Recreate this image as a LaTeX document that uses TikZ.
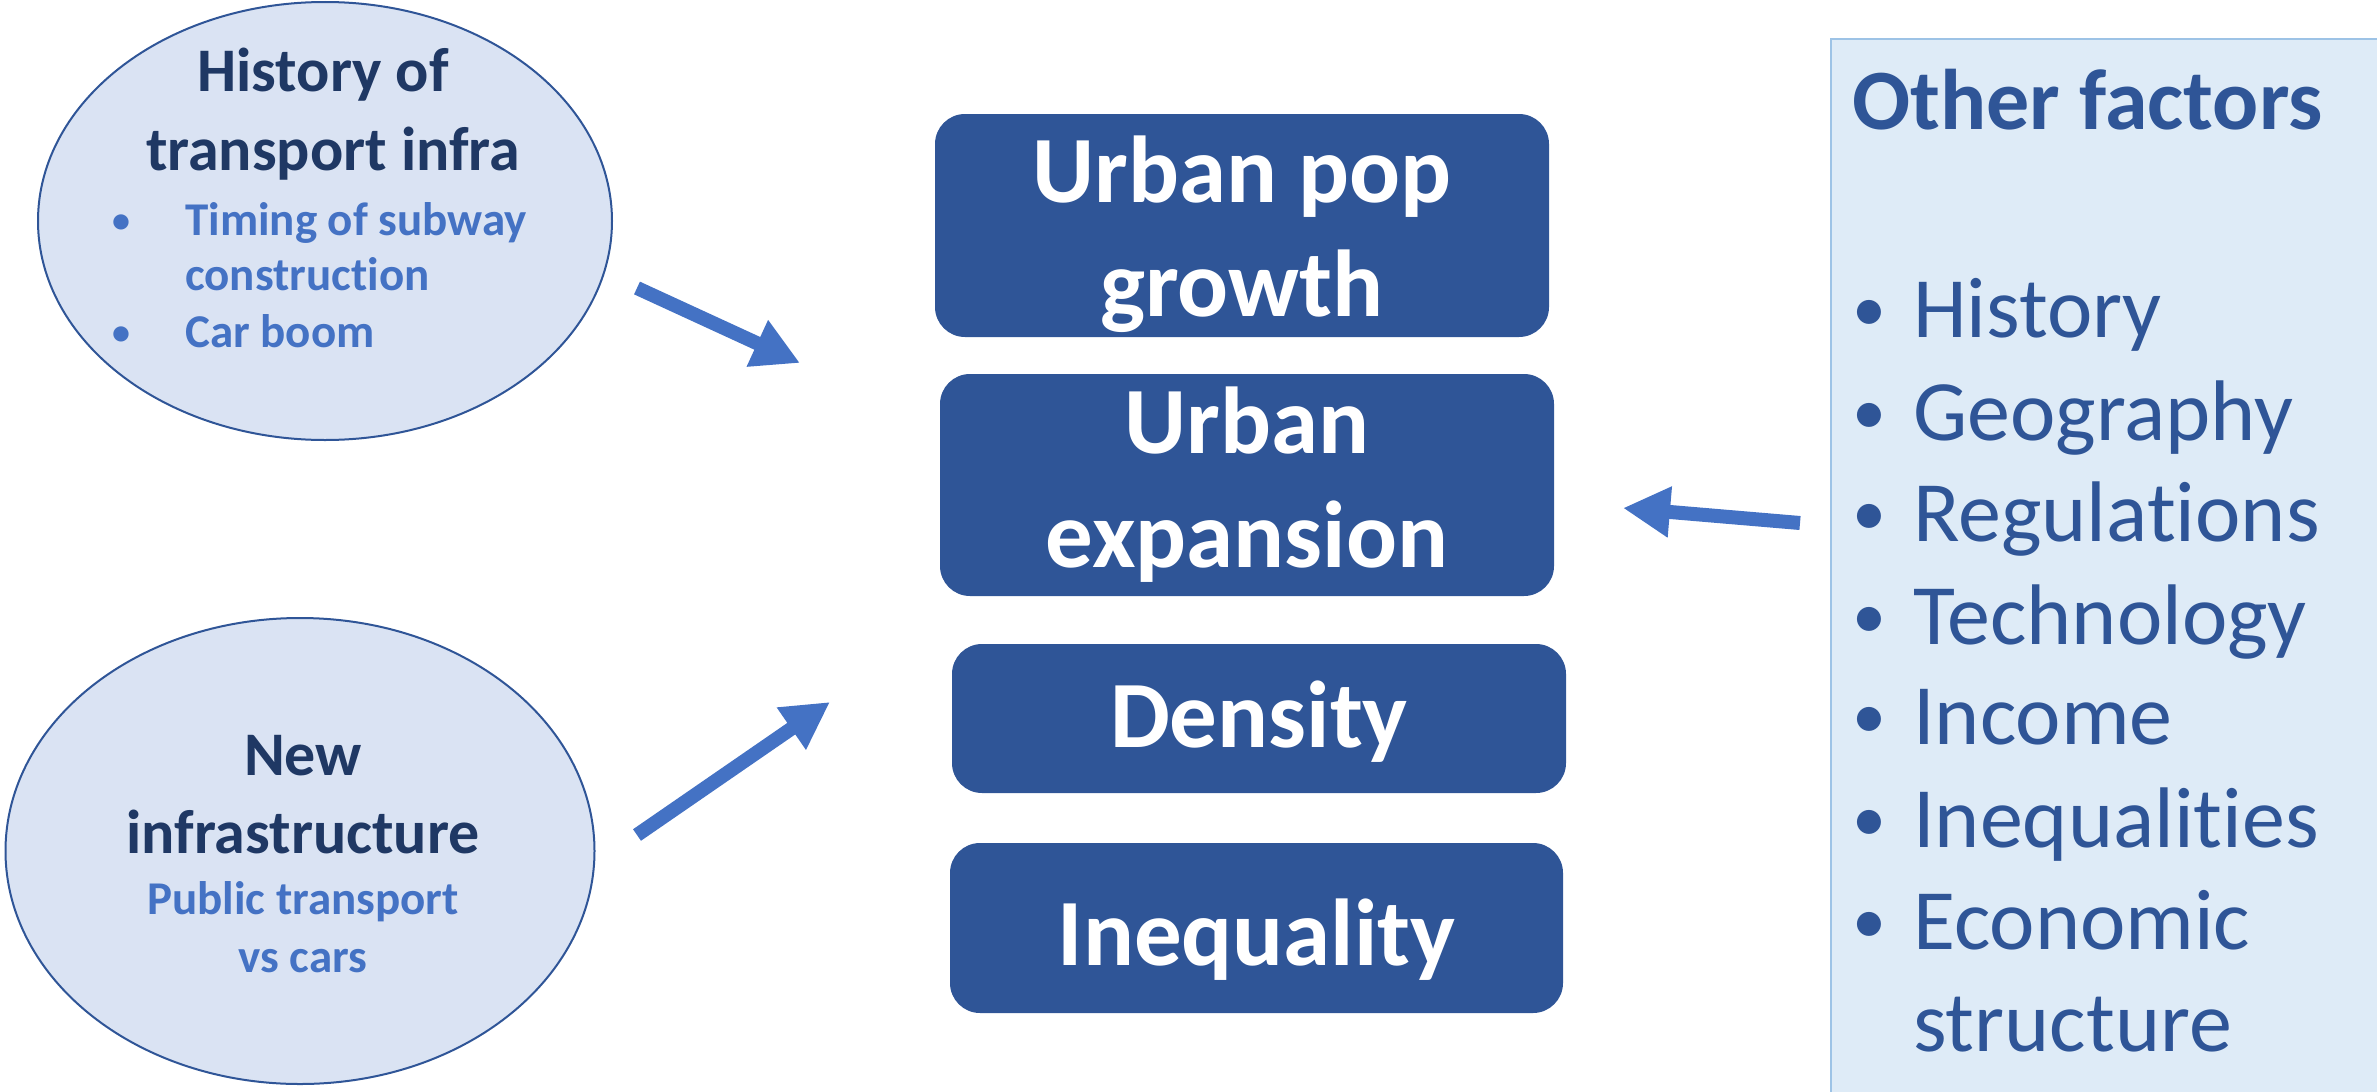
\documentclass[tikz,border=0pt]{standalone}
\usepackage{fontspec}
\setmainfont{Carlito}[Ligatures=NoCommon]
\usetikzlibrary{shapes.geometric,arrows.meta}
\definecolor{boxblue}{HTML}{2F5597}
\definecolor{ellfill}{HTML}{DAE3F3}
\definecolor{darktext}{HTML}{1F3864}
\definecolor{lighttext}{HTML}{4472C4}
\definecolor{arrowblue}{HTML}{4472C4}
\definecolor{panelfill}{HTML}{DEEBF7}
\definecolor{panelline}{HTML}{9DC3E6}
\tikzset{
  ubox/.style={draw=none, fill=boxblue, rounded corners=30pt, inner sep=0pt},
  utext/.style={text=white, align=center, font=\fontsize{95}{114}\selectfont\bfseries, inner sep=0pt},
  ell/.style={ellipse, draw=boxblue, line width=2pt, fill=ellfill, inner sep=0pt},
  ehead/.style={text=darktext, font=\fontsize{62}{79}\selectfont\bfseries, align=center, inner sep=0pt},
  esub/.style={text=lighttext, font=\fontsize{47}{56}\selectfont\bfseries, inner sep=0pt},
  ebul/.style={text=lighttext, font=\fontsize{36}{40}\selectfont\bfseries, inner sep=0pt},
  ptext/.style={text=boxblue, font=\fontsize{86}{102}\selectfont, inner sep=0pt, anchor=base west},
  pbul/.style={text=boxblue, font=\fontsize{68}{80}\selectfont, inner sep=0pt, anchor=base},
  fatarrow/.style={draw=arrowblue, line width=14pt, -{Triangle[length=47pt,width=48pt]}},
}
\begin{document}
\begin{tikzpicture}[x=1pt,y=-1pt]
\useasboundingbox (0,0) rectangle (2377,1092);
% central boxes
\node[ubox, minimum width=614pt, minimum height=223pt] (b1) at (1242,225.5) {};
\node[ubox, minimum width=614pt, minimum height=222pt] (b2) at (1247,485) {};
\node[ubox, minimum width=614pt, minimum height=149pt] (b3) at (1259,718.5) {};
\node[ubox, minimum width=613pt, minimum height=170pt] (b4) at (1256.5,928) {};
\node[utext] (b1t) at ([yshift=-9pt]b1.center) {Urban pop\\growth};
\node[utext] (b2t) at (b2.center) {Urban\\expansion};
\node[utext] (b3t) at ([yshift=-3pt]b3.center) {Density};
\node[utext] (b4t) at ([yshift=-12pt]b4.center) {Inequality};
% ellipses
\node[ell, minimum width=574pt, minimum height=438pt] (e1) at (325,221) {};
\node[ell, minimum width=589pt, minimum height=466pt] (e2) at (300,851) {};
% top ellipse text
\node[ehead, anchor=base] (h1) at (323,91) {History of};
\node[ehead, anchor=base] (h2) at (333,170) {transport infra};
\node[ebul, anchor=base] (bu1) at (121,232) {•};
\node[esub, anchor=base west] (t1) at (185,235) {Timing of subway};
\node[esub, anchor=base west] (t2) at (185,290) {construction};
\node[ebul, anchor=base] (bu2) at (121,344) {•};
\node[esub, anchor=base west] (t3) at (185,347) {Car boom};
% bottom ellipse text
\node[ehead, anchor=base] (n1) at (303,775) {New};
\node[ehead, anchor=base] (n2) at (303,853) {infrastructure};
\node[esub, anchor=base] (n3) at (303,914) {Public transport};
\node[esub, anchor=base] (n4) at (303,972) {vs cars};
% right panel
\node[draw=panelline, line width=1.5pt, fill=panelfill, minimum width=560pt, minimum height=1070pt, anchor=north west, inner sep=0pt] (panel) at (1830,38) {};
\node[ptext, font=\fontsize{86}{102}\selectfont\bfseries] (of) at (1852,129) {Other factors};
\foreach \i/\t/\y in {1/History/337, 2/Geography/440, 3/Regulations/541, 4/Technology/644, 5/Income/744, 6/Inequalities/847, 7/Economic/949} {
  \node[pbul] (pb\i) at (1869,\y-6) {•};
  \node[ptext] (pi\i) at (1913,\y) {\t};
}
\node[ptext] (pi8) at (1913,1051) {structure};
% arrows
\coordinate (a1s) at (637,288);
\coordinate (a1e) at (800,363);
\coordinate (a2s) at (637,835);
\coordinate (a2e) at (830,702);
\coordinate (a3s) at (1800,523);
\coordinate (a3e) at (1623,508);
\draw[fatarrow] (a1s) -- (a1e);
\draw[fatarrow] (a2s) -- (a2e);
\draw[fatarrow] (a3s) -- (a3e);
\end{tikzpicture}
\end{document}
